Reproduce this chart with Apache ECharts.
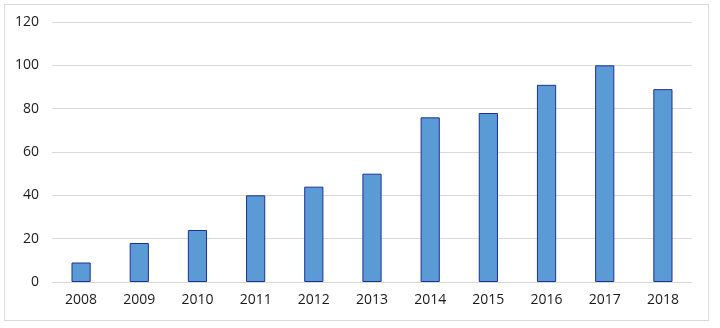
<!DOCTYPE html>
<html><head><meta charset="utf-8">
<script src="https://cdn.jsdelivr.net/npm/echarts@6/dist/echarts.min.js"></script>
<style>html,body{margin:0;padding:0;background:#fff}#c{width:720px;height:328px}
#frame{position:absolute;left:4px;top:4px;width:705px;height:317px;border:1px solid #d9d9d9;box-sizing:border-box;pointer-events:none}</style>
</head><body><div id="c"></div><div id="frame"></div>
<script>
const categories = ['2008','2009','2010','2011','2012','2013','2014','2015','2016','2017','2018'];
const values = [9, 18, 24, 40, 44, 50, 76, 78, 91, 100, 89];
const chart = echarts.init(document.getElementById('c'));
chart.setOption({
  animation: false,
  grid: {left: 52, right: 28, top: 22, bottom: 46},
  xAxis: {
    type: 'category', data: categories,
    axisLine: {lineStyle: {color: '#d9d9d9'}},
    axisTick: {show: false},
    axisLabel: {color: '#1a1a1a', fontSize: 14, fontFamily: 'Open Sans', margin: 11}
  },
  yAxis: {
    type: 'value', min: 0, max: 120, interval: 20,
    axisLine: {show: false}, axisTick: {show: false},
    splitLine: {lineStyle: {color: '#d9d9d9'}},
    axisLabel: {color: '#1a1a1a', fontSize: 14, fontFamily: 'Open Sans', margin: 13}
  },
  series: [{
    type: 'bar', data: values, barWidth: '33%',
    itemStyle: {color: '#5b9bd5', borderColor: '#1f2f9a', borderWidth: 1}
  }]
});
</script></body></html>
